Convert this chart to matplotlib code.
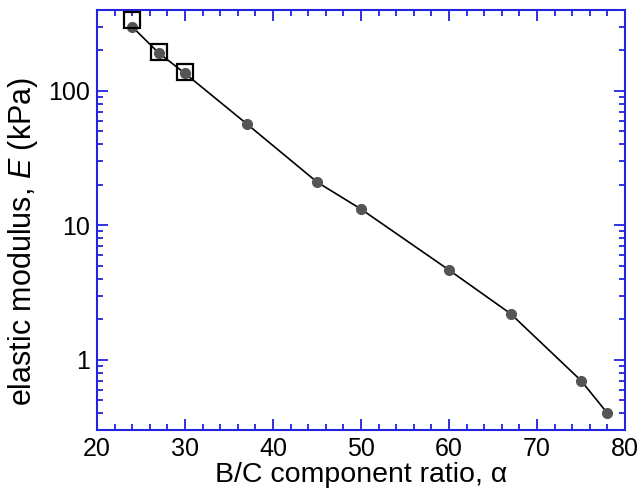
import numpy as np
import matplotlib
matplotlib.use('Agg')
import matplotlib.pyplot as plt
from matplotlib.ticker import MultipleLocator, FixedLocator, FixedFormatter, LogLocator, NullFormatter

plt.rcParams['font.family'] = ['Liberation Sans', 'DejaVu Sans']
plt.rcParams['mathtext.fontset'] = 'custom'
plt.rcParams['mathtext.rm'] = 'Liberation Sans'
plt.rcParams['mathtext.it'] = 'Liberation Sans:italic'

# data
alpha = [24, 27, 30, 37, 45, 50, 60, 67, 75, 78]
E = [300, 192, 135, 57, 21, 13.2, 4.65, 2.2, 0.70, 0.40]
alpha_sq = [24, 27, 30]
E_sq = [335, 196, 138]

blue = '#2323e0'

fig = plt.figure(figsize=(6.42, 4.97), dpi=100)
ax = fig.add_axes([97 / 642, 1 - 430 / 497, 528 / 642, 420 / 497])

ax.plot(alpha, E, '-', color='black', lw=1.2, zorder=2)
ax.plot(alpha, E, 'o', color='#555555', ms=7, zorder=3)
ax.plot(alpha_sq, E_sq, 's', mfc='none', mec='black', mew=1.6, ms=11, zorder=4)

ax.set_yscale('log')
ax.set_xlim(20, 80)
ax.set_ylim(0.30, 400)

ax.xaxis.set_major_locator(MultipleLocator(10))
ax.xaxis.set_minor_locator(MultipleLocator(2))
ax.yaxis.set_major_locator(FixedLocator([1, 10, 100]))
ax.yaxis.set_major_formatter(FixedFormatter(['1', '10', '100']))
ax.yaxis.set_minor_locator(LogLocator(base=10, subs=np.arange(2, 10)))
ax.yaxis.set_minor_formatter(NullFormatter())

for s in ax.spines.values():
    s.set_color(blue)
    s.set_linewidth(1.5)
ax.tick_params(which='both', direction='in', top=True, right=True, color=blue, width=1.3, labelsize=18, pad=5)
ax.tick_params(which='major', length=8)
ax.tick_params(which='minor', length=4)

ax.set_xlabel('B/C component ratio, α', fontsize=20.5, labelpad=1)
ax.set_ylabel(r'elastic modulus, $\mathit{E}$ (kPa)', fontsize=22)
ax.yaxis.set_label_coords(-0.108, 0.45)

fig.savefig('out.png', dpi=100)
